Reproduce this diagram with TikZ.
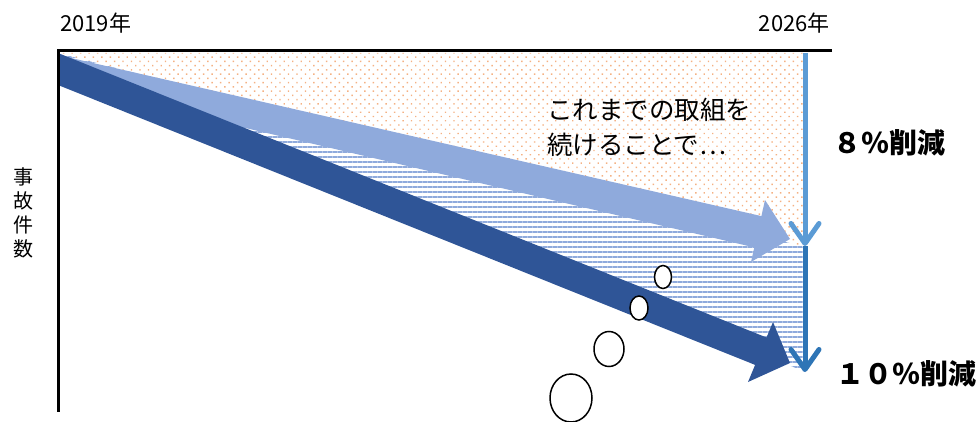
\documentclass[tikz,border=0pt]{standalone}
\usepackage{fontspec}
\newfontfamily\jpfont{Noto Sans CJK JP}
\usetikzlibrary{arrows.meta,patterns.meta}
\definecolor{lightarrow}{HTML}{8FAADC}
\definecolor{darkarrow}{HTML}{2F5597}
\definecolor{upperline}{HTML}{5B9BD5}
\definecolor{lowerline}{HTML}{2E75B6}
\definecolor{dotcolor}{HTML}{F4B183}
\begin{document}
\begin{tikzpicture}[x=1pt,y=-1pt,
  txt/.style={font=\jpfont\fontsize{22}{24}\selectfont, inner sep=0pt},
  bigtxt/.style={font=\jpfont\bfseries\fontsize{28}{30}\selectfont, inner sep=0pt},
  bubble/.style={draw=black, line width=1.5pt, fill=white},
  downarrow/.style={line width=5pt, -{Straight Barb[length=20pt,width=28pt,round]}}]
\useasboundingbox (0,0) rectangle (977,422);
% shaded areas behind the arrows
\fill[pattern={Dots[angle=45,distance=6pt,radius=1pt]},pattern color=dotcolor] (58,53) -- (805,53) -- (805,247) -- cycle;
\fill[pattern={Lines[angle=0,distance=5pt,line width=2pt]},pattern color=lightarrow] (58,53) -- (805,247) -- (805,372) -- cycle;
% the two trend arrows
\fill[lightarrow] (58,55) -- (761.4,216.1) -- (765,200) -- (790,239) -- (751,262) -- (754.3,247.4) -- (58,84) -- cycle;
\fill[darkarrow] (58,53) -- (766.5,337.5) -- (773,322) -- (790,363) -- (748,382) -- (755.1,364.9) -- (58,85) -- cycle;
% axes
\draw[black, line width=3pt] (832,51) -- (58,51) -- (58,412);
\node[txt, anchor=west] (start) at (60,23) {2019年};
\node[txt, anchor=east] (goal) at (830,23) {2026年};
\node[txt, align=center, font=\jpfont\fontsize{20}{24}\selectfont] (count) at (23,213) {事\\故\\件\\数};
% reductions
\coordinate (top) at (805,53);
\coordinate (mid) at (805,246);
\coordinate (bot) at (805,372);
\draw[downarrow, upperline] (top) -- (mid);
\draw[downarrow, lowerline] (mid) -- (bot);
\node[bigtxt, anchor=west] (eight) at (833,143) {８％削減};
\node[bigtxt, anchor=west] (ten) at (836,374) {１０％削減};
\node[txt, anchor=west, align=left, font=\jpfont\fontsize{25.5}{35}\selectfont] (keep) at (547,127) {これまでの取組を\\続けることで⋯};
% thought bubbles
\draw[bubble] (663,277) ellipse [x radius=8.5, y radius=11.5];
\draw[bubble] (639,308) ellipse [x radius=9, y radius=12];
\draw[bubble] (609,349) ellipse [x radius=15, y radius=17.5];
\draw[bubble] (571,398) ellipse [x radius=21, y radius=24];
\end{tikzpicture}
\end{document}
